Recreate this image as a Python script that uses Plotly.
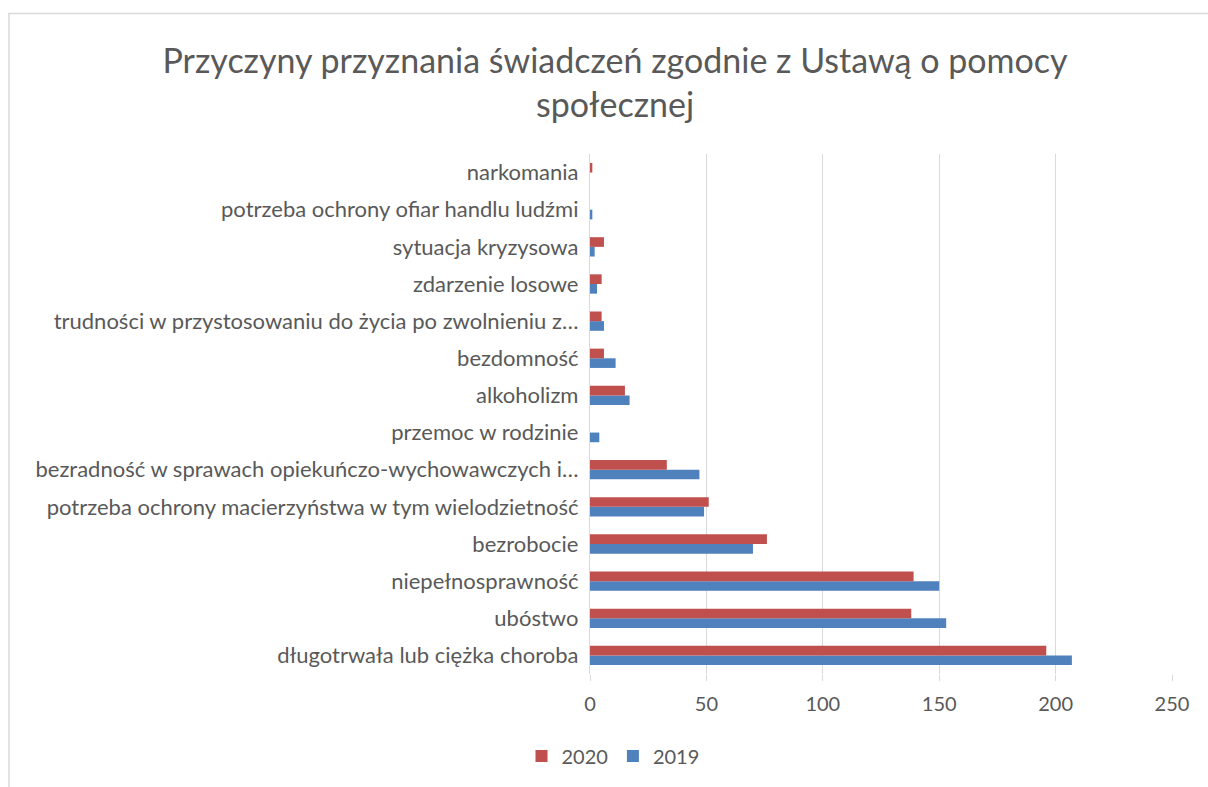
import plotly.graph_objects as go

categories = [
    "długotrwała lub ciężka choroba",
    "ubóstwo",
    "niepełnosprawność",
    "bezrobocie",
    "potrzeba ochrony macierzyństwa w tym wielodzietność",
    "bezradność w sprawach opiekuńczo-wychowawczych i…",
    "przemoc w rodzinie",
    "alkoholizm",
    "bezdomność",
    "trudności w przystosowaniu do życia po zwolnieniu z…",
    "zdarzenie losowe",
    "sytuacja kryzysowa",
    "potrzeba ochrony ofiar handlu ludźmi",
    "narkomania",
]
values_2019 = [207, 153, 150, 70, 49, 47, 4, 17, 11, 6, 3, 2, 1, 0]
values_2020 = [196, 138, 139, 76, 51, 33, 0, 15, 6, 5, 5, 6, 0, 1]
x_ticks = [0, 50, 100, 150, 200, 250]

W, H = 1208, 787
L, R, T, B = 590, 1172, 153.5, 673.7

FONT = "Lato, 'Open Sans', sans-serif"
GREY = "#595959"

fig = go.Figure()
fig.add_trace(go.Bar(y=categories, x=values_2019, orientation="h", name="2019",
                     marker=dict(color="#4F81BD", line=dict(width=0))))
fig.add_trace(go.Bar(y=categories, x=values_2020, orientation="h", name="2020",
                     marker=dict(color="#C0504D", line=dict(width=0))))

pw = R - L
ph = B - T
def px_x(p):
    return (p - L) / pw
def px_y(p):
    return (B - p) / ph

fig.update_layout(
    width=W, height=H,
    margin=dict(l=L, r=W - R, t=T, b=H - B, pad=0),
    paper_bgcolor="white", plot_bgcolor="white",
    barmode="group", bargap=0.48, bargroupgap=0,
    font=dict(family=FONT, color=GREY, size=20),
    title=dict(
        text="Przyczyny przyznania świadczeń zgodnie z Ustawą o pomocy<br>społecznej",
        x=615 / W, xanchor="center", xref="container",
        y=1 - 73 / H, yanchor="top", yref="container",
        font=dict(family=FONT, size=34, color=GREY),
    ),
    xaxis=dict(
        range=[0, 250], tickvals=x_ticks, showgrid=True, gridcolor="#d9d9d9", gridwidth=1.3,
        zeroline=False, showline=False, ticks="outside", ticklen=6, tickcolor="#d9d9d9",
        tickfont=dict(size=20, color=GREY), ticklabelstandoff=6,
    ),
    yaxis=dict(
        categoryorder="array", categoryarray=categories,
        showgrid=False, zeroline=False, showline=True, linecolor="#d9d9d9", linewidth=1.3,
        ticks="", tickfont=dict(size=22, color=GREY), ticklabelstandoff=6,
    ),
    legend=dict(
        orientation="h", traceorder="reversed",
        xref="container", yref="container",
        x=613 / W, xanchor="center", y=1 - 756 / H, yanchor="middle",
        font=dict(size=20, color=GREY), itemwidth=30,
    ),
    shapes=[dict(type="rect", xref="paper", yref="paper",
                 x0=px_x(9), x1=px_x(1215), y0=px_y(800), y1=px_y(13),
                 line=dict(color="#d9d9d9", width=1.5), fillcolor="rgba(0,0,0,0)", layer="below")],
)

fig.write_html("out.html", config={"displayModeBar": False},
               post_script="document.body.style.margin='0';")
